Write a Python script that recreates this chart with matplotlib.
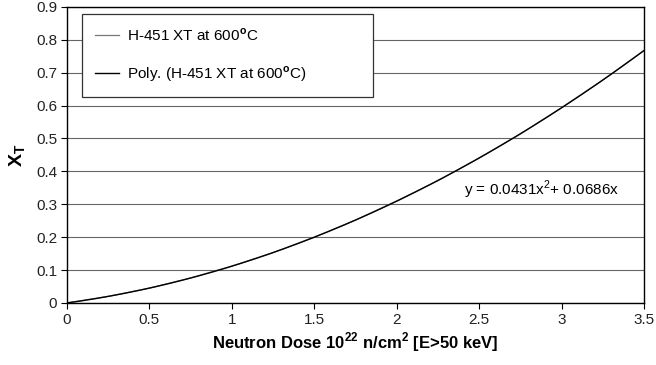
import numpy as np
import matplotlib.pyplot as plt

plt.rcParams['font.family'] = ['Liberation Sans', 'DejaVu Sans']
plt.rcParams['mathtext.fontset'] = 'custom'
plt.rcParams['mathtext.rm'] = 'Liberation Sans'
plt.rcParams['mathtext.bf'] = 'Liberation Sans:bold'

# Neutron dose (10^22 n/cm^2) and fractional change X_T
dose = [0.0, 0.25, 0.5, 0.75, 1.0, 1.25, 1.5, 1.75, 2.0, 2.25, 2.5, 2.75, 3.0, 3.25, 3.5]
xt = [0.0, 0.020, 0.045, 0.076, 0.112, 0.153, 0.200, 0.252, 0.310, 0.372,
      0.441, 0.514, 0.594, 0.678, 0.768]

x_ticks = [0, 0.5, 1, 1.5, 2, 2.5, 3, 3.5]
x_ticklabels = ['0', '0.5', '1', '1.5', '2', '2.5', '3', '3.5']
y_ticks = [0, 0.1, 0.2, 0.3, 0.4, 0.5, 0.6, 0.7, 0.8, 0.9]
y_ticklabels = ['0', '0.1', '0.2', '0.3', '0.4', '0.5', '0.6', '0.7', '0.8', '0.9']
equation = 'y = 0.0431x$^2$+ 0.0686x'

fig = plt.figure(figsize=(6.56, 3.65), dpi=100)
ax = fig.add_axes([0.102, 0.170, 0.880, 0.811])

# polynomial trendline through origin, fitted to the data
X = np.column_stack([np.array(dose) ** 2, np.array(dose)])
coef, *_ = np.linalg.lstsq(X, np.array(xt), rcond=None)
xx = np.linspace(0, 3.5, 200)
yy = coef[0] * xx ** 2 + coef[1] * xx

ax.plot(dose, xt, color='#777777', lw=0.9, label='H-451 XT at 600$^{\\mathbf{o}}$C')
ax.plot(xx, yy, color='black', lw=1.0, label='Poly. (H-451 XT at 600$^{\\mathbf{o}}$C)')

ax.text(2.875, 0.345, equation, ha='center', va='center', fontsize=11)

ax.set_xlim(0, 3.5)
ax.set_ylim(0, 0.9)
ax.set_xticks(x_ticks)
ax.set_xticklabels(x_ticklabels)
ax.set_yticks(y_ticks)
ax.set_yticklabels(y_ticklabels)
ax.tick_params(labelsize=11, direction='out', length=4, width=0.8, colors='black',
               labelcolor='#222222', pad=3)
ax.yaxis.grid(True, color='#666666', lw=0.8)
ax.set_axisbelow(True)
for s in ax.spines.values():
    s.set_linewidth(1.0)
    s.set_color('black')

ax.set_xlabel('Neutron Dose 10$^{\\mathbf{22}}$ n/cm$^{\\mathbf{2}}$ [E>50 keV]',
              fontsize=12, fontweight='bold', labelpad=3)
ax.set_ylabel('X$_{\\mathbf{T}}$', fontsize=14, fontweight='bold', labelpad=6)

leg = ax.legend(loc='upper left', bbox_to_anchor=(0.026, 0.0, 0.504, 0.976),
                mode='expand', fontsize=11, frameon=True, fancybox=False,
                edgecolor='#333333', framealpha=1, handlelength=1.6,
                handletextpad=0.5, borderpad=0.85, labelspacing=1.35,
                borderaxespad=0)
leg.get_frame().set_linewidth(0.9)

fig.savefig('out.png', dpi=100)
